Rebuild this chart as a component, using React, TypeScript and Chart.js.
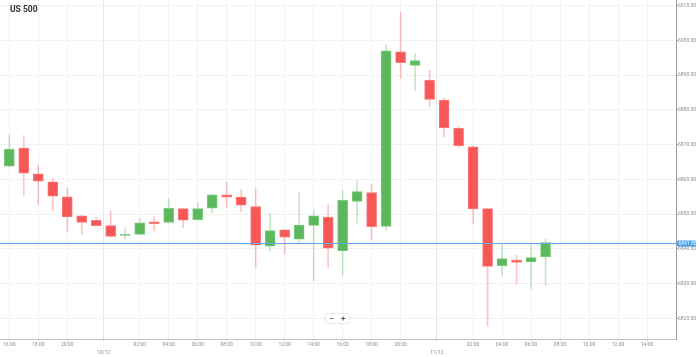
import React, { useEffect, useRef } from 'react';
import { Chart, registerables } from 'chart.js';

Chart.register(...registerables);

const TITLE = 'US 500';

const openValues = [
  6863.8, 6869.0, 6861.6, 6859.3, 6855.0, 6849.5, 6848.2, 6846.7, 6843.9, 6844.2,
  6847.8, 6847.6, 6851.6, 6848.4, 6851.7, 6855.6, 6854.9, 6852.2, 6840.8, 6845.5,
  6842.8, 6846.8, 6849.2, 6839.5, 6853.7, 6856.2, 6846.5, 6896.7, 6892.8, 6888.5,
  6882.8, 6874.7, 6869.4, 6851.6, 6835.2, 6836.8, 6836.3, 6837.8,
];
const highValues = [
  6872.8, 6872.6, 6864.1, 6860.3, 6857.5, 6849.6, 6849.0, 6851.0, 6846.0, 6848.7,
  6849.3, 6854.4, 6851.7, 6853.3, 6855.8, 6859.3, 6857.2, 6857.2, 6850.1, 6845.6,
  6856.2, 6851.1, 6852.6, 6856.8, 6859.8, 6858.6, 6898.6, 6908.0, 6896.2, 6891.4,
  6883.3, 6875.1, 6869.7, 6851.7, 6841.6, 6838.2, 6841.1, 6842.8,
];
const lowValues = [
  6863.6, 6855.4, 6852.8, 6851.0, 6845.0, 6844.1, 6846.6, 6843.5, 6842.8, 6844.1,
  6845.2, 6847.5, 6846.2, 6848.3, 6850.4, 6851.8, 6850.7, 6834.6, 6839.3, 6838.6,
  6841.8, 6830.9, 6834.6, 6832.5, 6847.4, 6842.6, 6845.5, 6889.2, 6885.5, 6880.9,
  6872.3, 6869.2, 6847.4, 6817.7, 6832.5, 6829.9, 6828.6, 6829.6,
];
const closeValues = [
  6868.7, 6861.8, 6859.5, 6855.2, 6849.2, 6847.6, 6846.7, 6843.6, 6844.1, 6847.5,
  6847.3, 6851.7, 6848.3, 6851.6, 6855.6, 6854.9, 6852.6, 6841.1, 6845.3, 6843.4,
  6846.9, 6849.5, 6840.2, 6854.0, 6856.5, 6846.4, 6897.0, 6893.6, 6894.2, 6883.0,
  6874.9, 6869.7, 6851.5, 6835.0, 6837.2, 6836.1, 6837.5, 6841.8,
];
const lastPrice = 6841.8;

// x tick positions are candle indices (hourly candles, market break skipped)
const xTickIndices = [0, 2, 4, 6.5, 9, 11, 13, 15, 17, 19, 21, 23, 25, 27, 29.5, 32, 34, 36, 38, 40, 42, 44];
const xTickLabels = [
  '16:00', '18:00', '20:00', '10/12', '02:00', '04:00', '06:00', '08:00', '10:00', '12:00', '14:00',
  '16:00', '18:00', '20:00', '11/12', '02:00', '04:00', '06:00', '08:00', '10:00', '12:00', '14:00',
];
const dateLabels = ['10/12', '11/12'];
const yTickValues = [6820, 6830, 6840, 6850, 6860, 6870, 6880, 6890, 6900, 6910];
const yMin = 6814.1;
const yMax = 6911.6;
const xMin = -0.64;
const xMax = 46;

const GREEN = '#5cb85c';
const GREEN_BORDER = '#7cc97c';
const GREEN_WICK = 'rgba(92,184,92,0.35)';
const RED = '#f75757';
const RED_BORDER = '#fa7a7a';
const RED_WICK = 'rgba(247,87,87,0.35)';
const FONT = 'Roboto';

const priceLinePlugin = {
  id: 'priceLine',
  afterDatasetsDraw(chart: any) {
    const { ctx, chartArea, scales } = chart;
    const y = Math.round(scales.y.getPixelForValue(lastPrice)) + 0.5;
    ctx.save();
    ctx.strokeStyle = '#5eaaea';
    ctx.lineWidth = 1;
    ctx.beginPath();
    ctx.moveTo(chartArea.left, y);
    ctx.lineTo(chartArea.right, y);
    ctx.stroke();
    const bx = chartArea.right + 1;
    const bw = 19;
    const bh = 6;
    ctx.fillStyle = '#3f9ff0';
    ctx.beginPath();
    if (ctx.roundRect) ctx.roundRect(bx, y - bh / 2, bw, bh, 1);
    else ctx.rect(bx, y - bh / 2, bw, bh);
    ctx.fill();
    ctx.fillStyle = '#ffffff';
    ctx.font = `5px ${FONT}`;
    ctx.textAlign = 'left';
    ctx.textBaseline = 'middle';
    ctx.fillText(lastPrice.toFixed(2), bx + 1.5, y + 0.3);
    ctx.restore();
  },
};

export default function App() {
  const canvasRef = useRef<HTMLCanvasElement | null>(null);

  useEffect(() => {
    if (!canvasRef.current) return;
    const up = closeValues.map((c, i) => c >= openValues[i]);
    const bodies = openValues.map((o, i) => ({ x: i, y: [o, closeValues[i]] }));
    const wicks = lowValues.map((l, i) => ({ x: i, y: [l, highValues[i]] }));

    const chart = new Chart(canvasRef.current, {
      type: 'bar',
      data: {
        datasets: [
          {
            label: 'body',
            data: bodies as any,
            backgroundColor: up.map((u) => (u ? GREEN : RED)),
            borderColor: up.map((u) => (u ? GREEN_BORDER : RED_BORDER)),
            borderWidth: 1,
            borderSkipped: false,
            barThickness: 10,
            minBarLength: 1,
            grouped: false,
            order: 0,
          } as any,
          {
            label: 'wick',
            data: wicks as any,
            backgroundColor: up.map((u) => (u ? GREEN_WICK : RED_WICK)),
            borderWidth: 0,
            barThickness: 1,
            grouped: false,
            order: 1,
          } as any,
        ],
      },
      options: {
        animation: false,
        responsive: true,
        maintainAspectRatio: false,
        layout: { padding: 0 },
        plugins: { legend: { display: false }, tooltip: { enabled: false }, title: { display: false } },
        scales: {
          x: {
            type: 'linear',
            min: xMin,
            max: xMax,
            offset: false,
            grid: {
              offset: false,
              color: (c: any) => (c.tick && (c.tick.value === 6.5 || c.tick.value === 29.5) ? '#e6e6e6' : '#f2f2f2'),
              tickColor: '#cccccc',
              tickLength: 2,
            },
            border: { color: '#c4c4c4' },
            afterBuildTicks: (s: any) => {
              s.ticks = xTickIndices.map((v) => ({ value: v }));
            },
            afterFit: (s: any) => {
              s.height = 18;
              s.paddingLeft = 0;
              s.paddingRight = 0;
            },
            ticks: {
              autoSkip: false,
              maxRotation: 0,
              minRotation: 0,
              padding: 0,
              color: '#8c8c8c',
              font: { size: 5, family: FONT, lineHeight: 1.6 },
              callback: (v: any) => {
                const k = xTickIndices.indexOf(Number(v));
                const t = k >= 0 ? xTickLabels[k] : '';
                return dateLabels.includes(t) ? ['', t] : t;
              },
            },
          } as any,
          y: {
            type: 'linear',
            position: 'right',
            min: yMin,
            max: yMax,
            beginAtZero: false,
            grid: { color: '#f2f2f2', tickColor: '#9a9a9a', tickLength: 2 },
            border: { color: '#9a9a9a' },
            afterBuildTicks: (s: any) => {
              s.ticks = yTickValues.map((v) => ({ value: v }));
            },
            afterFit: (s: any) => {
              s.width = 23;
              s.paddingTop = 0;
              s.paddingBottom = 0;
            },
            ticks: {
              padding: 0,
              color: '#8c8c8c',
              font: { size: 5, family: FONT },
              callback: (v: any) => Number(v).toFixed(2),
            },
          } as any,
        },
      },
      plugins: [priceLinePlugin],
    });
    return () => chart.destroy();
  }, []);

  const btn: React.CSSProperties = {
    width: 11.5,
    height: 9,
    fontSize: 8,
    lineHeight: '9px',
    textAlign: 'center',
    color: '#555',
    fontFamily: 'Roboto, sans-serif',
    fontWeight: 700,
  };

  return (
    <div style={{ position: 'absolute', left: 0, top: 0, width: 699, height: 357, background: '#fff', overflow: 'hidden' }}>
      <canvas ref={canvasRef} />
      <div
        style={{
          position: 'absolute',
          left: 10,
          top: 4,
          fontFamily: 'Roboto, sans-serif',
          fontWeight: 700,
          fontSize: 8.5,
          color: '#333',
          pointerEvents: 'none',
        }}
      >
        {TITLE}
      </div>
      <div
        style={{
          position: 'absolute',
          left: 326,
          top: 314,
          display: 'flex',
          background: '#fff',
          boxShadow: '0 0 2px rgba(0,0,0,0.3)',
          borderRadius: 2,
        }}
      >
        <div style={btn}>−</div>
        <div style={btn}>+</div>
      </div>
    </div>
  );
}
